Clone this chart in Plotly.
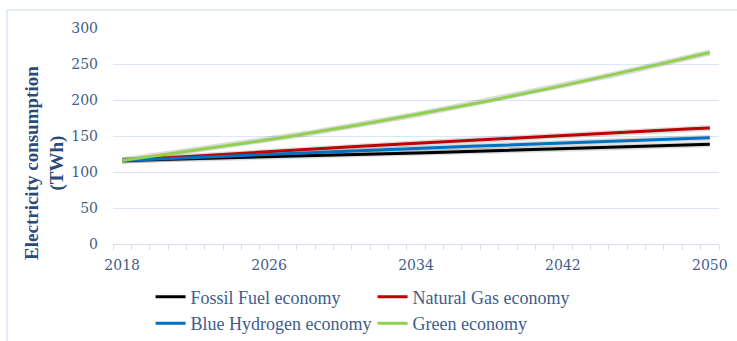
import plotly.graph_objects as go

# Annual electricity consumption scenarios, 2018-2050 (TWh)
years = list(range(2018, 2051))

fossil_fuel = [116, 116.6, 117.2, 117.8, 118.4, 119.0, 119.6, 120.3, 121.0,
               121.7, 122.3, 123.0, 123.7, 124.4, 125.1, 125.8, 126.5,
               127.2, 127.9, 128.6, 129.3, 130.0, 130.7, 131.4, 132.1,
               132.9, 133.6, 134.4, 135.2, 135.9, 136.7, 137.5, 138.4]
natural_gas = [116, 117.6, 119.2, 120.8, 122.4, 124.0, 125.6, 127.2, 128.8,
               130.2, 131.6, 133.0, 134.4, 135.8, 137.2, 138.6, 140.0,
               141.3, 142.6, 143.9, 145.2, 146.5, 147.8, 149.1, 150.4,
               151.7, 153.1, 154.5, 155.9, 157.3, 158.7, 160.0, 161.0]
blue_hydrogen = [116, 117.1, 118.2, 119.3, 120.4, 121.5, 122.5, 123.5, 124.5,
                 125.6, 126.7, 127.8, 128.9, 130.0, 131.0, 132.0, 133.0,
                 133.9, 134.8, 135.7, 136.6, 137.5, 138.4, 139.3, 140.2,
                 141.1, 142.0, 142.9, 143.8, 144.7, 145.6, 146.6, 147.6]
green = [116, 119.5, 123.0, 126.5, 130.0, 133.5, 137.0, 141.0, 145.0,
         149.0, 153.0, 157.5, 161.5, 166.0, 170.5, 175.0, 179.5,
         184.5, 189.5, 194.0, 199.0, 204.0, 209.0, 214.5, 220.0,
         225.5, 231.0, 236.5, 242.0, 248.0, 254.0, 260.0, 266.0]

series_names = ["Fossil Fuel economy", "Natural Gas economy",
                "Blue Hydrogen economy", "Green economy"]
series_values = [fossil_fuel, natural_gas, blue_hydrogen, green]
series_colors = ["#000000", "#c00000", "#0070c0", "#92d050"]

x_tick_years = [2018, 2026, 2034, 2042, 2050]
y_ticks = [0, 50, 100, 150, 200, 250, 300]

serif = "Liberation Serif"
wide_serif = "DejaVu Serif"
text_color = "#3f5d8c"
title_color = "#2b4a7a"
grid_color = "#dde7f3"

fig = go.Figure()
# soft grey halo under each line
for vals in series_values:
    fig.add_trace(go.Scatter(
        x=years, y=vals, mode="lines", showlegend=False, hoverinfo="skip",
        line=dict(color="rgba(60,60,60,0.18)", width=6),
    ))
for name, vals, col in zip(series_names, series_values, series_colors):
    fig.add_trace(go.Scatter(
        x=years, y=vals, name=name, mode="lines",
        line=dict(color=col, width=3),
    ))

fig.update_layout(
    width=737, height=341,
    margin=dict(l=113, r=18, t=28, b=97, autoexpand=False),
    paper_bgcolor="white", plot_bgcolor="white",
    showlegend=True,
    legend=dict(
        orientation="h", x=0.062, y=-0.16, xanchor="left", yanchor="top",
        entrywidth=177, entrywidthmode="pixels",
        font=dict(family=serif, size=18, color=text_color),
        bgcolor="rgba(0,0,0,0)", itemwidth=30,
    ),
    xaxis=dict(
        range=[2017.5, 2050.5],
        tickmode="array", tickvals=x_tick_years,
        ticktext=[str(y) for y in x_tick_years],
        ticks="", showgrid=False, zeroline=False,
        showline=True, linecolor="#d6dfeb", linewidth=1,
        tickfont=dict(family=wide_serif, size=14, color=text_color),
        ticklabelstandoff=8,
        minor=dict(tickmode="linear", tick0=2017.5, dtick=1,
                   ticks="outside", ticklen=5, tickcolor="#d6dfeb",
                   showgrid=False),
    ),
    yaxis=dict(
        range=[0, 300], tickmode="array", tickvals=y_ticks,
        showgrid=True, gridcolor=grid_color, gridwidth=1,
        zeroline=False, showline=False, ticks="",
        tickfont=dict(family=wide_serif, size=14, color=text_color),
        ticklabelstandoff=14,
    ),
)

fig.add_annotation(
    text="<b>Electricity consumption<br>(TWh)</b>",
    xref="paper", yref="paper", x=-0.114, y=0.375,
    xanchor="center", yanchor="middle", textangle=-90, showarrow=False,
    font=dict(family=serif, size=19, color=title_color),
)

# light outer frame of the chart area
fig.add_shape(
    type="rect", xref="paper", yref="paper",
    x0=-0.175, y0=-0.6, x1=1.1, y1=1.083,
    line=dict(color="#c9d9ef", width=1), layer="below",
)

fig.write_html("out.html")
